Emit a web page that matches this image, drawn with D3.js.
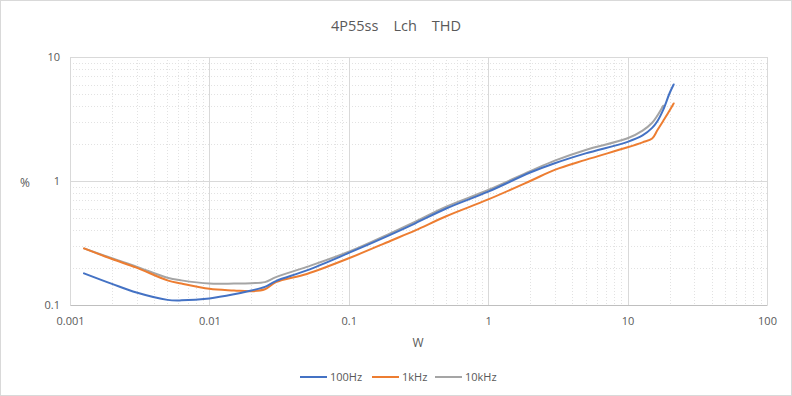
<!DOCTYPE html>
<html>
<head>
<meta charset="utf-8">
<script src="https://cdn.jsdelivr.net/npm/d3@7"></script>
<style>
  body { margin: 0; background: #fff; }
  text { font-family: "Open Sans", "Noto Sans", sans-serif; fill: #595959; }
</style>
</head>
<body>
<div id="chart"></div>
<script>
// chart size and plot area
const width = 792;
const height = 396;
const margin = {left: 70, right: 25, top: 57, bottom: 91};

// data
const watts = [0.00126, 0.002, 0.003, 0.005, 0.0063, 0.01, 0.015, 0.02, 0.025, 0.03, 0.05,
               0.1, 0.2, 0.3, 0.5, 1, 2, 3, 5, 10, 12.8, 15, 16.3, 18, 20, 21.4];
const thd100 = [0.18, 0.148, 0.126, 0.11, 0.109, 0.113, 0.122, 0.131, 0.14, 0.156, 0.19,
                0.263, 0.37, 0.456, 0.6, 0.82, 1.17, 1.39, 1.67, 2.07, 2.33, 2.68, 3.02, 3.75, 5.1, 6.0];
const thd1k = [0.286, 0.235, 0.2, 0.158, 0.149, 0.135, 0.131, 0.129, 0.134, 0.153, 0.178,
               0.238, 0.33, 0.4, 0.52, 0.71, 1.0, 1.23, 1.48, 1.87, 2.05, 2.2, 2.55, 3.05, 3.7, 4.22];
const thd10k = [0.286, 0.238, 0.204, 0.166, 0.158, 0.149, 0.149, 0.15, 0.153, 0.168, 0.203,
                0.269, 0.38, 0.47, 0.62, 0.846, 1.2, 1.46, 1.78, 2.21, 2.55, 2.95, 3.35, 4.05, null, null];
const seriesNames = ["100Hz", "1kHz", "10kHz"];
const seriesColors = ["#4472c4", "#ed7d31", "#a5a5a5"];
const xTicks = [0.001, 0.01, 0.1, 1, 10, 100];
const yTicks = [0.1, 1, 10];

const series = [thd100, thd1k, thd10k].map((vals, i) => ({
  name: seriesNames[i],
  color: seriesColors[i],
  points: watts.map((w, j) => ({x: w, y: vals[j]})).filter(p => p.y != null)
}));

const svg = d3.select("#chart")
  .append("svg")
  .attr("width", width)
  .attr("height", height);

// outer chart border
svg.append("rect")
  .attr("x", 0.5).attr("y", 0.5)
  .attr("width", width - 1).attr("height", height - 1)
  .attr("fill", "#fff")
  .attr("stroke", "#d9d9d9");

let xScale = d3.scaleLog()
  .domain([0.001, 100])
  .range([margin.left, width - margin.right]);

let yScale = d3.scaleLog()
  .domain([0.1, 10])
  .range([height - margin.bottom, margin.top]);

// minor gridlines (2..9 in each decade)
let minorX = [];
let minorY = [];
for (let d = 0.001; d < 100; d *= 10) {
  for (let k = 2; k <= 9; k++) minorX.push(d * k);
}
for (let d = 0.1; d < 10; d *= 10) {
  for (let k = 2; k <= 9; k++) minorY.push(d * k);
}

svg.append("g")
  .selectAll("line")
  .data(minorX)
  .enter()
  .append("line")
    .attr("x1", d => Math.round(xScale(d)) + 0.5)
    .attr("x2", d => Math.round(xScale(d)) + 0.5)
    .attr("y1", margin.top)
    .attr("y2", height - margin.bottom)
    .attr("stroke", "#e2e2e2")
    .attr("stroke-dasharray", "1,2");

svg.append("g")
  .selectAll("line")
  .data(minorY)
  .enter()
  .append("line")
    .attr("x1", margin.left)
    .attr("x2", width - margin.right)
    .attr("y1", d => Math.round(yScale(d)) + 0.5)
    .attr("y2", d => Math.round(yScale(d)) + 0.5)
    .attr("stroke", "#e2e2e2")
    .attr("stroke-dasharray", "1,2");

// major gridlines
svg.append("g")
  .selectAll("line")
  .data(xTicks)
  .enter()
  .append("line")
    .attr("x1", d => Math.round(xScale(d)) + 0.5)
    .attr("x2", d => Math.round(xScale(d)) + 0.5)
    .attr("y1", margin.top)
    .attr("y2", height - margin.bottom)
    .attr("stroke", "#d9d9d9");

svg.append("g")
  .selectAll("line")
  .data(yTicks)
  .enter()
  .append("line")
    .attr("x1", margin.left)
    .attr("x2", width - margin.right)
    .attr("y1", d => Math.round(yScale(d)) + 0.5)
    .attr("y2", d => Math.round(yScale(d)) + 0.5)
    .attr("stroke", "#d9d9d9");

// axes (labels only, Excel style)
const xAxis = svg.append("g")
  .attr("transform", `translate(0,${height - margin.bottom})`)
  .call(d3.axisBottom(xScale).tickValues(xTicks).tickFormat(d => String(d)).tickSize(0).tickPadding(12));
xAxis.select(".domain").attr("stroke", "#bfbfbf");
xAxis.selectAll("text").attr("font-size", "11px").attr("fill", "#595959");

const yAxis = svg.append("g")
  .attr("transform", `translate(${margin.left},0)`)
  .call(d3.axisLeft(yScale).tickValues(yTicks).tickFormat(d => String(d)).tickSize(0).tickPadding(10));
yAxis.select(".domain").attr("stroke", "#d9d9d9");
yAxis.selectAll("text").attr("font-size", "11px").attr("fill", "#595959");

// lines
const line = d3.line()
  .x(d => xScale(d.x))
  .y(d => yScale(d.y))
  .curve(d3.curveCatmullRom.alpha(0.5));

// draw in reverse so the 100Hz line sits on top
svg.append("g")
  .selectAll("path")
  .data(series.slice().reverse())
  .enter()
  .append("path")
    .attr("d", d => line(d.points))
    .attr("fill", "none")
    .attr("stroke", d => d.color)
    .attr("stroke-width", 2)
    .attr("stroke-linejoin", "round")
    .attr("stroke-linecap", "round");

// title and axis titles
svg.append("text")
  .attr("x", width / 2)
  .attr("y", 31)
  .attr("text-anchor", "middle")
  .attr("font-size", "14.5px")
  .text("4P55ss\u3000Lch\u3000THD");

svg.append("text")
  .attr("x", 418)
  .attr("y", 347)
  .attr("text-anchor", "middle")
  .attr("font-size", "12px")
  .text("W");

svg.append("text")
  .attr("x", 25)
  .attr("y", 187)
  .attr("text-anchor", "middle")
  .attr("font-size", "12px")
  .text("%");

// legend
const legendX = [300, 372, 435];
const legend = svg.append("g")
  .selectAll("g")
  .data(series)
  .enter()
  .append("g")
    .attr("transform", (d, i) => `translate(${legendX[i]},377)`);

legend.append("line")
  .attr("x1", 0).attr("x2", 27)
  .attr("stroke", d => d.color)
  .attr("stroke-width", 2);

legend.append("text")
  .attr("x", 30)
  .attr("y", 4)
  .attr("font-size", "11px")
  .text(d => d.name);
</script>
</body>
</html>
